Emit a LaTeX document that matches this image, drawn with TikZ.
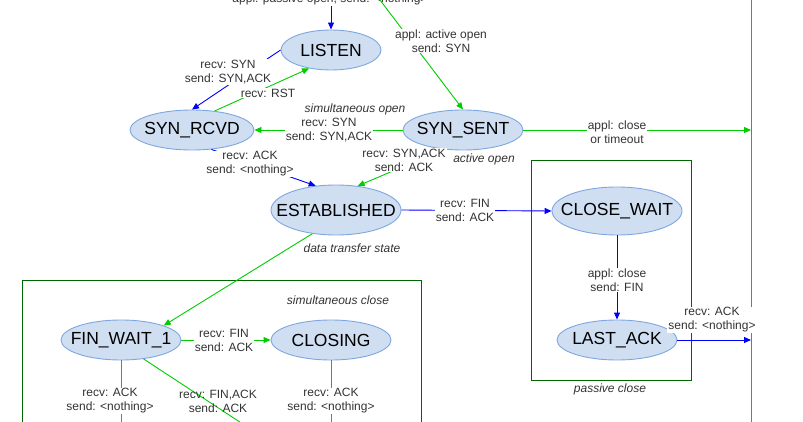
\documentclass[tikz,border=0pt]{standalone}
\usepackage{fontspec}
\setmainfont{Liberation Sans}
\usetikzlibrary{arrows.meta,shapes.geometric}
\definecolor{sfill}{HTML}{D0DEF2}
\definecolor{sdraw}{HTML}{7EA6E0}
\definecolor{bl}{HTML}{0000FF}
\definecolor{gr}{HTML}{00CC00}
\definecolor{dg}{HTML}{006600}
\begin{document}
\begin{tikzpicture}[x=1pt,y=-1pt,line width=0.9pt,
  st/.style={ellipse,fill=sfill,draw=sdraw,inner sep=0pt},
  tx/.style={inner sep=0pt,font=\fontsize{17.5}{18}\selectfont},
  lb/.style={fill=white,inner sep=1pt,align=center,font=\fontsize{12}{14}\selectfont,text=black!80},
  it/.style={inner sep=0pt,font=\fontsize{12}{14}\selectfont\itshape,text=black!80},
  ba/.style={draw=bl,-{Triangle[length=7pt,width=6pt]}},
  ga/.style={draw=gr,-{Triangle[length=7pt,width=6pt]}},
  box/.style={draw=dg}]
\useasboundingbox (0,0) rectangle (803,422);
\draw[box] (22,280) rectangle (421,430);
\draw[box] (531,160) rectangle (691,380);
\node[st,minimum width=100pt,minimum height=40pt] (listen) at (331,50) {};
\node[st,minimum width=124pt,minimum height=40pt] (rcvd) at (192,130) {};
\node[st,minimum width=120pt,minimum height=40pt] (sent) at (463,130) {};
\node[st,minimum width=130pt,minimum height=50pt] (est) at (336,210) {};
\node[st,minimum width=130pt,minimum height=48pt] (cw) at (617,211) {};
\node[st,minimum width=120pt,minimum height=40pt] (la) at (617,340) {};
\node[st,minimum width=120pt,minimum height=40pt] (fw1) at (121,340) {};
\node[st,minimum width=120pt,minimum height=40pt] (closing) at (331,340) {};
\node[tx] (tlisten) at (listen) {LISTEN};
\node[tx] (trcvd) at (rcvd) {SYN\_RCVD};
\node[tx] (tsent) at (sent) {SYN\_SENT};
\node[tx] (test) at (est) {ESTABLISHED};
\node[tx] (tcw) at (cw) {CLOSE\_WAIT};
\node[tx] (tla) at (la) {LAST\_ACK};
\node[tx] (tfw1) at (fw1) {FIN\_WAIT\_1};
\node[tx] (tclosing) at (closing) {CLOSING};
\coordinate (rtop) at (751,0); \coordinate (rbot) at (751,422);
\draw[gr] (rtop) -- (rbot);
\coordinate (ptop) at (331,6);
\coordinate (atop) at (380,0);
\coordinate (r1) at (751,130); \coordinate (r2) at (751,340);
\coordinate (b1) at (121,430); \coordinate (b2) at (252,430); \coordinate (b3) at (331,430);
\draw[ba] (ptop) -- (listen.north);
\node[lb] (l0) at (330,-1) {appl: passive open, send: <nothing>};
\draw[ga] (atop) -- (sent.north);
\node[lb] (l1) at (441,41) {appl: active open\\send: SYN};
\draw[ba] (listen.west) -- (rcvd.north);
\node[lb] (l2) at (228,72) {recv: SYN\\send: SYN,ACK};
\draw[ga] (rcvd.40) -- (listen.220);
\node[lb] (l3) at (268,93) {recv: RST};
\draw[ga] (sent.west) -- (rcvd.east);
\node[lb] (l4) at (329,130) {recv: SYN\\send: SYN,ACK};
\draw[ba] (rcvd.-45) -- (est.130);
\node[lb] (l5) at (250,164) {recv: ACK\\send: <nothing>};
\draw[ga] (sent.-135) -- (est.48);
\node[lb] (l6) at (404,160) {recv: SYN,ACK\\send: ACK};
\draw[ga] (sent.east) -- (r1);
\node[lb] (l7) at (617,132) {appl: close\\or timeout};
\draw[ba] (est.east) -- (cw.west);
\node[lb] (l8) at (465,210) {recv: FIN\\send: ACK};
\draw[ba] (cw.south) -- (la.north);
\node[lb] (l9) at (617,280) {appl: close\\send: FIN};
\draw[ba] (la.east) -- (r2);
\node[lb] (l10) at (712,320) {recv: ACK\\send: <nothing>};
\draw[ga] (est.-135) -- (fw1.north east);
\draw[ga] (fw1.east) -- (closing.west);
\node[lb] (l11) at (224,340) {recv: FIN\\send: ACK};
\draw[gr] (fw1.south) -- (b1);
\node[lb] (l12) at (110,401) {recv: ACK\\send: <nothing>};
\draw[gr] (fw1.-40) -- (b2);
\node[lb,fill=none] (l13) at (218,401) {recv: FIN,ACK\\send: ACK};
\draw[gr] (closing.south) -- (b3);
\node[lb] (l14) at (331,401) {recv: ACK\\send: <nothing>};
\node[it] (i1) at (355,109) {simultaneous open};
\node[it] (i2) at (484,159) {active open};
\node[it] (i3) at (352,248) {data transfer state};
\node[it] (i4) at (338,300) {simultaneous close};
\node[it] (i5) at (610,389) {passive close};
\end{tikzpicture}
\end{document}
